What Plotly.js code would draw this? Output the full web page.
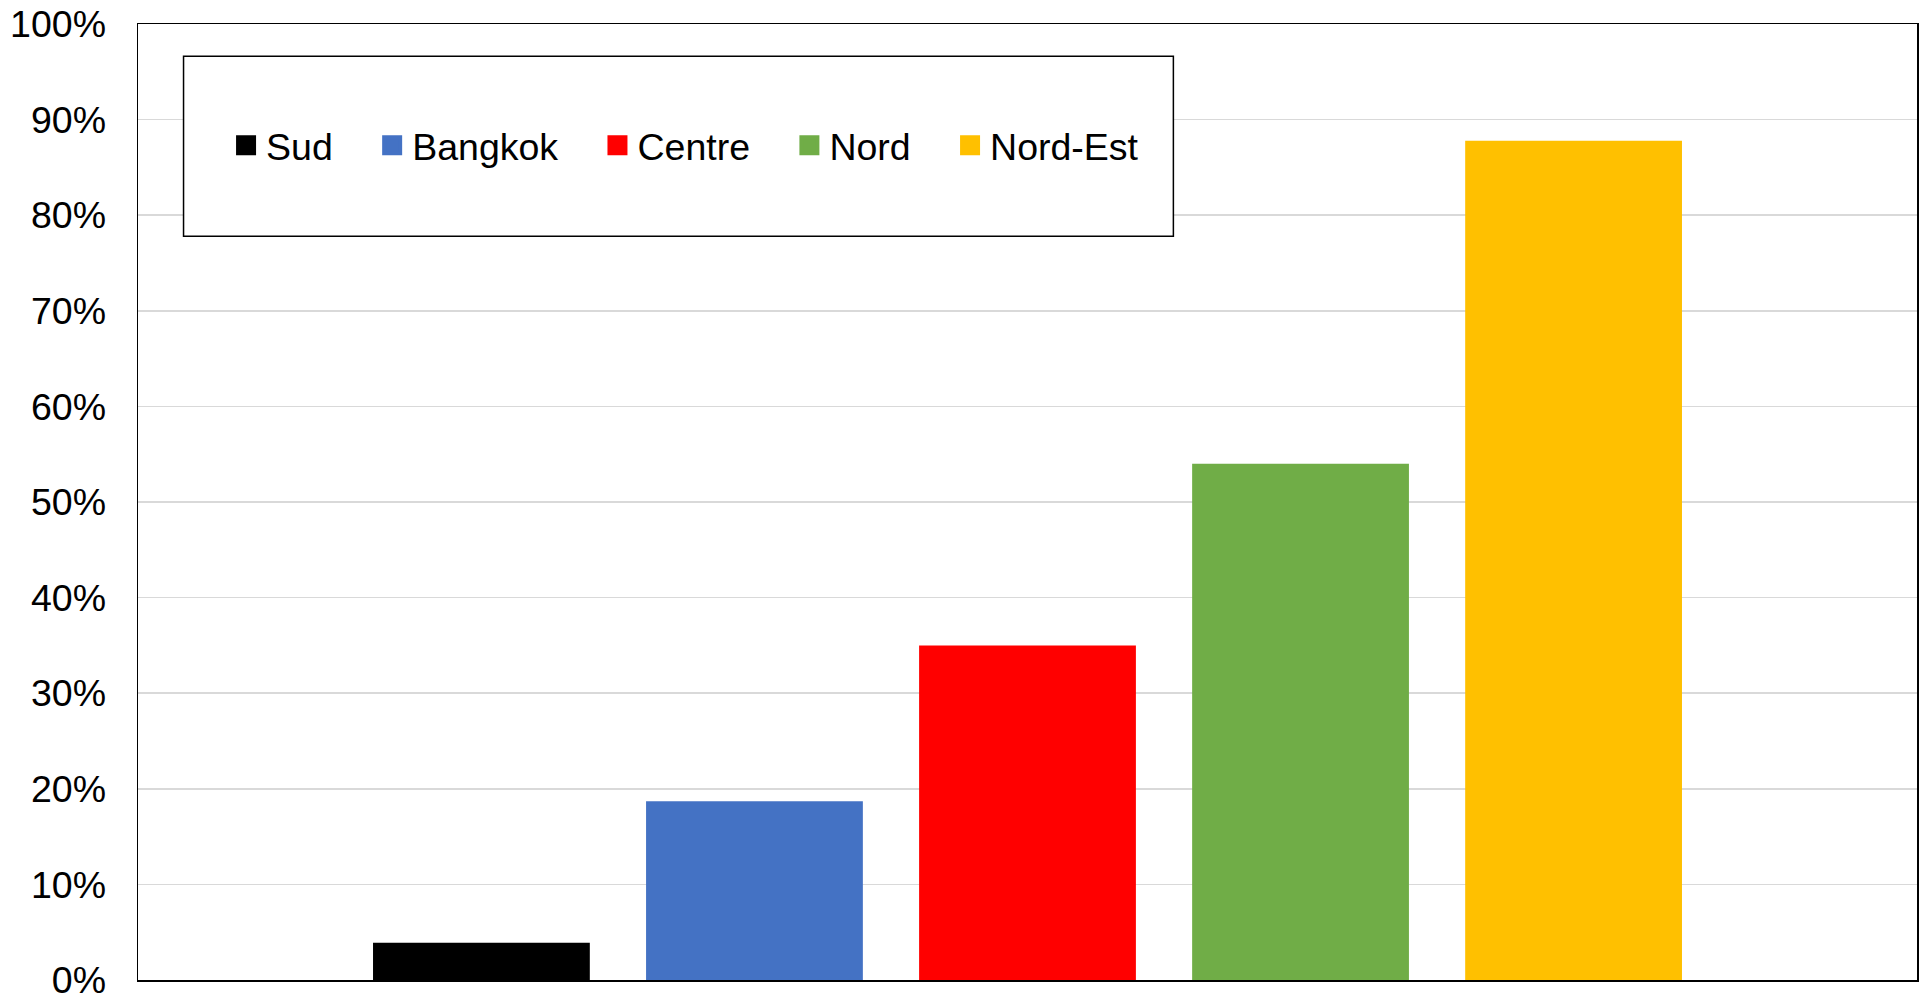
<!DOCTYPE html>
<html>
<head>
<meta charset="utf-8">
<script src="https://cdn.plot.ly/plotly-3.0.1.min.js"></script>
<style>
  html, body { margin: 0; padding: 0; background: #ffffff; }
  #chart { width: 1919px; height: 997px; }
</style>
</head>
<body>
<div id="chart"></div>
<script>
// Data
const groupLabel = ['Régions'];
const regions = ['Sud', 'Bangkok', 'Centre', 'Nord', 'Nord-Est'];
const shares = [3.9, 18.7, 35.0, 54.0, 87.8]; // percent
const colors = ['#000000', '#4472C4', '#FF0000', '#70AD47', '#FFC000'];
const yTickVals = [0, 10, 20, 30, 40, 50, 60, 70, 80, 90, 100];
const yTickText = ['0%', '10%', '20%', '30%', '40%', '50%', '60%', '70%', '80%', '90%', '100%'];

const FONT = 'Liberation Sans, Arial, Helvetica, sans-serif';
const FS = 37.5;

const barTraces = regions.map((name, i) => ({
  type: 'bar',
  name: name,
  x: groupLabel,
  y: [shares[i]],
  marker: { color: colors[i], line: { width: 0 } },
  showlegend: false,
  hoverinfo: 'name+y'
}));

// legend entries (square keys) for the same series
const legendTraces = regions.map((name, i) => ({
  type: 'scatter',
  mode: 'markers',
  name: name + '\u2002\u2005\u2006',
  x: [null],
  y: [null],
  marker: { symbol: 'square', size: 16, color: colors[i], line: { color: colors[i], width: 4 } },
  showlegend: true,
  hoverinfo: 'skip'
}));

const layout = {
  width: 1919,
  height: 997,
  margin: { l: 138, r: 2, t: 24, b: 17, pad: 0 },
  paper_bgcolor: '#ffffff',
  plot_bgcolor: '#ffffff',
  font: { family: FONT, size: FS, color: '#000000' },
  barmode: 'group',
  bargap: 0.2326,
  bargroupgap: 0.206,
  showlegend: true,
  legend: {
    orientation: 'h',
    x: 0.0495,
    xanchor: 'left',
    y: 0.873,
    yanchor: 'middle',
    bgcolor: 'rgba(0,0,0,0)',
    borderwidth: 0,
    font: { family: FONT, size: FS, color: '#000000' },
    traceorder: 'normal'
  },
  xaxis: {
    type: 'category',
    showticklabels: false,
    ticks: '',
    showgrid: false,
    zeroline: false,
    showline: true,
    mirror: true,
    linecolor: '#000000',
    linewidth: 1.5,
    fixedrange: true
  },
  yaxis: {
    range: [0, 100],
    tickmode: 'array',
    tickvals: yTickVals,
    ticktext: yTickText,
    ticks: '',
    ticklabelstandoff: 23,
    ticklabeloverflow: 'allow',
    tickfont: { family: FONT, size: FS, color: '#000000' },
    showgrid: true,
    gridcolor: '#d9d9d9',
    gridwidth: 1.5,
    zeroline: false,
    showline: true,
    mirror: true,
    linecolor: '#000000',
    linewidth: 1.5,
    fixedrange: true
  },
  shapes: [{
    type: 'rect',
    xref: 'paper', yref: 'paper',
    x0: 0.0256, x1: 0.582,
    y0: 0.778, y1: 0.9662,
    line: { color: '#000000', width: 1.5 },
    fillcolor: '#ffffff',
    layer: 'above'
  }]
};

Plotly.newPlot('chart', barTraces.concat(legendTraces), layout, { displayModeBar: false, staticPlot: true });
</script>
</body>
</html>
